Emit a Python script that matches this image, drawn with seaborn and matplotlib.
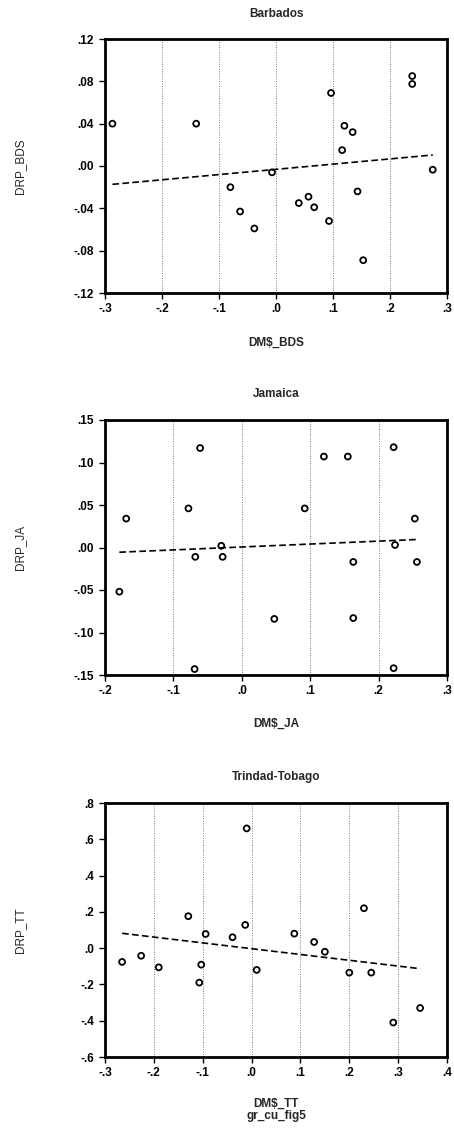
import numpy as np
import pandas as pd
import matplotlib
matplotlib.use("Agg")
import matplotlib.pyplot as plt
import seaborn as sns

# ---------------- data ----------------
bds_x = [-0.287, -0.140, -0.080, -0.063, -0.038, -0.007, 0.040, 0.057, 0.067,
         0.0965, 0.093, 0.120, 0.1345, 0.116, 0.143, 0.153, 0.239, 0.239, 0.275]
bds_y = [0.040, 0.040, -0.020, -0.043, -0.059, -0.006, -0.035, -0.029, -0.039,
         0.069, -0.052, 0.038, 0.032, 0.015, -0.024, -0.089, 0.085, 0.0775, -0.0035]

ja_x = [-0.179, -0.169, -0.078, -0.061, -0.068, -0.030, -0.028, 0.0475, 0.092, -0.069,
        0.120, 0.155, 0.163, 0.163, 0.222, 0.224, 0.222, 0.253, 0.256]
ja_y = [-0.052, 0.034, 0.046, 0.117, -0.011, 0.002, -0.011, -0.084, 0.046, -0.143,
        0.107, 0.107, -0.017, -0.083, 0.118, 0.003, -0.142, 0.034, -0.017]

tt_x = [-0.265, -0.226, -0.190, -0.1295, -0.103, -0.107, -0.094, -0.039, -0.013, -0.010,
        0.0105, 0.0875, 0.128, 0.150, 0.200, 0.230, 0.245, 0.290, 0.345]
tt_y = [-0.076, -0.042, -0.106, 0.176, -0.091, -0.190, 0.078, 0.060, 0.128, 0.660,
        -0.120, 0.080, 0.034, -0.020, -0.135, 0.220, -0.135, -0.410, -0.330]

titles = ["Barbados", "Jamaica", "Trindad-Tobago"]
xlabels = [r"DM\$_BDS", r"DM\$_JA", r"DM\$_TT"]
ylabels = ["DRP_BDS", "DRP_JA", "DRP_TT"]

bds_xticks = [-0.3, -0.2, -0.1, 0.0, 0.1, 0.2, 0.3]
bds_xticklabels = ["-.3", "-.2", "-.1", ".0", ".1", ".2", ".3"]
bds_yticks = [-0.12, -0.08, -0.04, 0.0, 0.04, 0.08, 0.12]
bds_yticklabels = ["-.12", "-.08", "-.04", ".00", ".04", ".08", ".12"]

ja_xticks = [-0.2, -0.1, 0.0, 0.1, 0.2, 0.3]
ja_xticklabels = ["-.2", "-.1", ".0", ".1", ".2", ".3"]
ja_yticks = [-0.15, -0.10, -0.05, 0.0, 0.05, 0.10, 0.15]
ja_yticklabels = ["-.15", "-.10", "-.05", ".00", ".05", ".10", ".15"]

tt_xticks = [-0.3, -0.2, -0.1, 0.0, 0.1, 0.2, 0.3, 0.4]
tt_xticklabels = ["-.3", "-.2", "-.1", ".0", ".1", ".2", ".3", ".4"]
tt_yticks = [-0.6, -0.4, -0.2, 0.0, 0.2, 0.4, 0.6, 0.8]
tt_yticklabels = ["-.6", "-.4", "-.2", ".0", ".2", ".4", ".6", ".8"]

# ---------------- style ----------------
sns.set_style("white")
plt.rcParams["font.family"] = ["Liberation Sans", "DejaVu Sans"]

W, H = 454, 1134
fig = plt.figure(figsize=(W / 100, H / 100), dpi=100)

panels = [
    (bds_x, bds_y, bds_xticks, bds_xticklabels, bds_yticks, bds_yticklabels, 39, 293, 14, 343),
    (ja_x, ja_y, ja_xticks, ja_xticklabels, ja_yticks, ja_yticklabels, 420, 675, 394, 724),
    (tt_x, tt_y, tt_xticks, tt_xticklabels, tt_yticks, tt_yticklabels, 803, 1057, 777, 1104),
]

left, right = 105, 447
for i, (xs, ys, xt, xtl, yt, ytl, top, bot, ty, xly) in enumerate(panels):
    ax = fig.add_axes([left / W, 1 - bot / H, (right - left) / W, (bot - top) / H])
    df = pd.DataFrame({"x": xs, "y": ys})
    sns.regplot(data=df, x="x", y="y", ax=ax, ci=None, color="black",
                scatter_kws=dict(s=18, facecolors="none", edgecolors="black",
                                 linewidths=1.3, alpha=1, zorder=3),
                line_kws=dict(ls=(0, (4, 2)), color="black", lw=1.2, zorder=2))
    ax.set_xlim(xt[0], xt[-1])
    ax.set_ylim(yt[0], yt[-1])
    ax.set_xticks(xt)
    ax.set_xticklabels(xtl)
    ax.set_yticks(yt)
    ax.set_yticklabels(ytl)
    ax.set_xlabel("")
    ax.set_ylabel("")
    ax.xaxis.grid(True, ls=(0, (1, 1.5)), color="#777777", lw=0.7)
    ax.yaxis.grid(False)
    for sp in ax.spines.values():
        sp.set_visible(True)
        sp.set_color("black")
        sp.set_linewidth(2.0)
    ax.tick_params(axis="both", direction="out", length=4, width=1.0,
                   colors="black", labelsize=8.5, bottom=True, left=True)
    ax.tick_params(axis="x", pad=3)
    ax.tick_params(axis="y", pad=4)
    for lab in ax.get_xticklabels() + ax.get_yticklabels():
        lab.set_fontweight("bold")

    cx = (left + right) / 2 / W
    fig.text(cx, 1 - ty / H, titles[i], ha="center", va="center",
             fontsize=8.5, fontweight="bold")
    fig.text(cx, 1 - xly / H, xlabels[i], ha="center", va="center",
             fontsize=8.5, fontweight="bold")
    fig.text(20 / W, 1 - (top + bot) / 2 / H, ylabels[i], ha="center", va="center",
             rotation=90, fontsize=8.5)

fig.text((left + right) / 2 / W, 1 - 1116 / H, "gr_cu_fig5", ha="center", va="center",
         fontsize=8.5, fontweight="bold")

fig.savefig("out.png", dpi=100)
